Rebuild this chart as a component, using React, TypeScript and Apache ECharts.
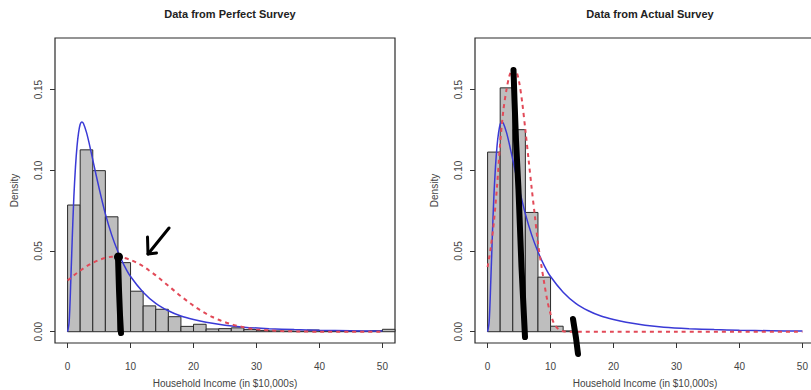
import React, { useEffect, useRef } from "react";
import * as echarts from "echarts";

// Histogram bins (width 2, in $10,000s)
const binStarts = [0, 2, 4, 6, 8, 10, 12, 14, 16, 18, 20, 22, 24, 26, 28, 30, 32, 34, 36, 38, 40, 42, 44, 46, 48, 50];
const binWidth = 2;
const perfectDensity = [0.0785, 0.1127, 0.0998, 0.0712, 0.0428, 0.0251, 0.016, 0.0139, 0.0093, 0.0033, 0.0046, 0.0017, 0.0019, 0.0024, 0.0013, 0.0008, 0.0005, 0.0004, 0.0003, 0.001, 0.0004, 0.0003, 0.0002, 0.0003, 0.0006, 0.0015];
const actualDensity = [0.1113, 0.1511, 0.1252, 0.0739, 0.0338, 0.0034, 0.0005];

// Blue solid curve (same in both panels)
const blueX = [0, 0.25, 0.5, 0.75, 1, 1.25, 1.5, 1.75, 2, 2.25, 2.5, 3, 3.5, 4, 5, 6, 7, 8, 9, 10, 12, 14, 16, 18, 20, 22, 25, 28, 32, 36, 40, 45, 50];
const blueY = [0, 0.0062, 0.0305, 0.059, 0.084, 0.102, 0.115, 0.1235, 0.1285, 0.13, 0.1292, 0.1235, 0.1155, 0.1065, 0.089, 0.073, 0.06, 0.0495, 0.041, 0.0342, 0.0245, 0.0176, 0.013, 0.0097, 0.0075, 0.0058, 0.004, 0.0028, 0.0019, 0.0013, 0.0009, 0.0006, 0.0004];

// Red dashed curve, perfect survey
const redPerfectX = [0, 1, 2, 3, 4, 5, 6, 7, 8, 9, 10, 11, 12, 13, 14, 15, 16, 17, 18, 19, 20, 21, 22, 23, 24, 25, 26, 27, 28, 29, 30, 31, 32, 33, 34, 35, 37, 40, 45, 50];
const redPerfectY = [0.0317, 0.0349, 0.0378, 0.0405, 0.0427, 0.0445, 0.0457, 0.0464, 0.0464, 0.0457, 0.0445, 0.0427, 0.0405, 0.0378, 0.0349, 0.0317, 0.0285, 0.0252, 0.022, 0.019, 0.0161, 0.0135, 0.0112, 0.0091, 0.0074, 0.0059, 0.0046, 0.0036, 0.0027, 0.002, 0.0015, 0.0011, 0.0008, 0.0006, 0.0004, 0.0003, 0.0001, 0.00003, 0, 0];

// Red dashed curve, actual survey
const redActualX = [0, 0.5, 1, 1.5, 2, 2.5, 3, 3.5, 4, 4.5, 5, 5.5, 6, 6.5, 7, 7.5, 8, 8.5, 9, 9.5, 10, 10.5, 11, 11.5, 12, 13, 20, 30, 40, 50];
const redActualY = [0.04, 0.052, 0.068, 0.09, 0.117, 0.137, 0.15, 0.159, 0.163, 0.162, 0.155, 0.142, 0.125, 0.107, 0.089, 0.072, 0.055, 0.042, 0.03, 0.019, 0.011, 0.0055, 0.0025, 0.001, 0.0003, 0, 0, 0, 0, 0];

const xTicks = [0, 10, 20, 30, 40, 50];
const yTicks = [0, 0.05, 0.1, 0.15];
const titles = ["Data from Perfect Survey", "Data from Actual Survey"];
const xTitle = "Household Income (in $10,000s)";
const yTitle = "Density";

const FONT = "Liberation Sans, Arial, sans-serif";

const pairs = (xs: number[], ys: number[]) => xs.map((x, i) => [x, ys[i]]);
const bins = (d: number[]) => d.map((h, i) => [binStarts[i], binStarts[i] + binWidth, h]);

export default function App() {
  const ref = useRef<HTMLDivElement>(null);
  useEffect(() => {
    if (!ref.current) return;
    const chart = echarts.init(ref.current, null, { renderer: "svg" });
    const grids = [
      { left: 55, top: 38, width: 340, height: 305 },
      { left: 475, top: 38, width: 340, height: 305 },
    ];
    const renderBar = (params: any, api: any) => {
      const x0 = api.value(0);
      const x1 = api.value(1);
      const h = api.value(2);
      const p0 = api.coord([x0, 0]);
      const p1 = api.coord([x1, h]);
      return {
        type: "rect",
        shape: { x: p0[0], y: p1[1], width: p1[0] - p0[0], height: p0[1] - p1[1] },
        style: { fill: "#bebebe", stroke: "#2a2a2a", lineWidth: 1 },
      };
    };
    const option: any = {
      animation: false,
      backgroundColor: "#ffffff",
      title: titles.map((t, i) => ({
        text: t,
        left: i === 0 ? 225 : 645,
        top: 3,
        textAlign: "center",
        textStyle: { fontFamily: FONT, fontSize: 11, fontWeight: "bold", color: "#222" },
      })),
      grid: grids.map((g) => ({
        ...g,
        show: true,
        containLabel: false,
        outerBoundsMode: "none",
        borderColor: "#2a2a2a",
        borderWidth: 1.2,
        backgroundColor: "transparent",
      })),
      xAxis: [0, 1].map((i) => ({
        type: "value",
        gridIndex: i,
        min: -2,
        max: 52,
        splitLine: { show: false },
        axisLine: { show: false, onZero: false },
        axisTick: { show: true, customValues: xTicks, length: 5, lineStyle: { color: "#333" } },
        axisLabel: { customValues: xTicks, fontFamily: FONT, fontSize: 10, color: "#444", margin: 18 },
        name: xTitle,
        nameLocation: "middle",
        nameGap: 35,
        nameTextStyle: { fontFamily: FONT, fontSize: 10, color: "#444" },
      })),
      yAxis: [0, 1].map((i) => ({
        type: "value",
        gridIndex: i,
        min: -0.007,
        max: 0.182,
        splitLine: { show: false },
        axisLine: { show: false, onZero: false },
        axisTick: { show: true, customValues: yTicks, length: 5, lineStyle: { color: "#333" } },
        axisLabel: {
          customValues: yTicks,
          rotate: 90,
          fontFamily: FONT,
          fontSize: 10,
          color: "#444",
          margin: 12,
          formatter: (v: number) => v.toFixed(2),
        },
        name: yTitle,
        nameLocation: "middle",
        nameRotate: 90,
        nameGap: 36,
        nameTextStyle: { fontFamily: FONT, fontSize: 10, color: "#444" },
      })),
      series: [
        {
          type: "custom",
          xAxisIndex: 0,
          yAxisIndex: 0,
          renderItem: renderBar,
          encode: { x: [0, 1], y: 2 },
          data: bins(perfectDensity),
          z: 1,
        },
        {
          type: "custom",
          xAxisIndex: 1,
          yAxisIndex: 1,
          renderItem: renderBar,
          encode: { x: [0, 1], y: 2 },
          data: bins(actualDensity),
          z: 1,
        },
        ...[0, 1].map((i) => ({
          type: "line",
          xAxisIndex: i,
          yAxisIndex: i,
          data: pairs(blueX, blueY),
          showSymbol: false,
          smooth: 0.3,
          lineStyle: { color: "#3a3ad6", width: 1.5 },
          z: 3,
        })),
        {
          type: "line",
          xAxisIndex: 0,
          yAxisIndex: 0,
          data: pairs(redPerfectX, redPerfectY),
          showSymbol: false,
          smooth: 0.3,
          lineStyle: { color: "#e24a58", width: 2, type: [4, 4] },
          z: 4,
        },
        {
          type: "line",
          xAxisIndex: 1,
          yAxisIndex: 1,
          data: pairs(redActualX, redActualY),
          showSymbol: false,
          smooth: 0.3,
          lineStyle: { color: "#e24a58", width: 2, type: [4, 4] },
          z: 4,
        },
      ],
      graphic: [
        {
          type: "polyline",
          z: 100,
          shape: { points: [[118, 257], [119, 290], [120, 315], [121, 333]] },
          style: { stroke: "#000", lineWidth: 6, lineCap: "round", lineJoin: "round", fill: null },
        },
        {
          type: "circle",
          z: 100,
          shape: { cx: 118.5, cy: 257, r: 4.5 },
          style: { fill: "#000" },
        },
        {
          type: "polyline",
          z: 100,
          shape: { points: [[169, 228], [148, 254]] },
          style: { stroke: "#000", lineWidth: 3, lineCap: "round", fill: null },
        },
        {
          type: "polyline",
          z: 100,
          shape: { points: [[147.5, 237], [148, 254], [156.5, 253]] },
          style: { stroke: "#000", lineWidth: 3, lineCap: "round", lineJoin: "round", fill: null },
        },
        {
          type: "polyline",
          z: 100,
          shape: { points: [[513.5, 70], [514.5, 100], [516, 140], [518.5, 190], [521.5, 267], [525, 337]] },
          style: { stroke: "#000", lineWidth: 6, lineCap: "round", lineJoin: "round", fill: null },
        },
        {
          type: "polyline",
          z: 100,
          shape: { points: [[573, 319], [576, 338], [578, 354]] },
          style: { stroke: "#000", lineWidth: 6, lineCap: "round", lineJoin: "round", fill: null },
        },
      ],
    };
    chart.setOption(option);
    return () => chart.dispose();
  }, []);
  return <div ref={ref} style={{ position: "absolute", left: 0, top: 0, width: 811, height: 390, background: "#fff" }} />;
}
